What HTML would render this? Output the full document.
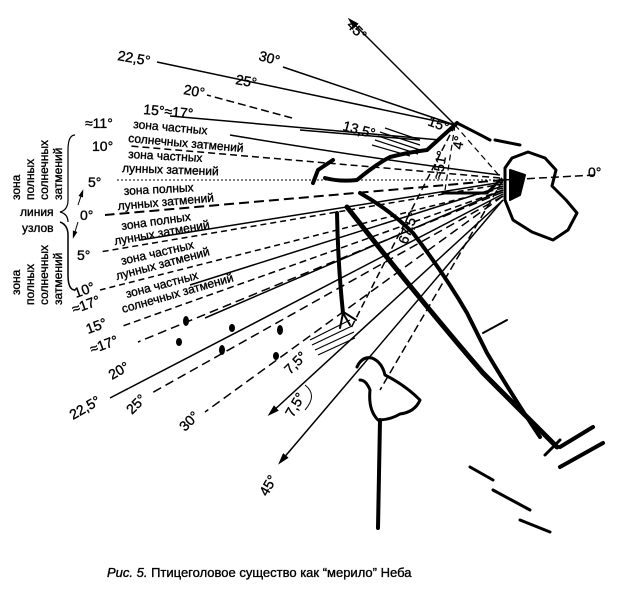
<!DOCTYPE html>
<html><head><meta charset="utf-8"><style>
html,body{margin:0;padding:0;background:#fff}
svg{display:block}
text{font-family:"Liberation Sans",sans-serif;fill:#000;stroke:#000;stroke-width:0.35}
</style></head><body>
<svg width="623" height="599" viewBox="0 0 623 599" xmlns="http://www.w3.org/2000/svg">
<defs>
<marker id="a" viewBox="0 0 10 10" refX="5" refY="5" markerWidth="8" markerHeight="8" orient="auto"><path d="M0,2 L10,5 L0,8 z" fill="#000"/></marker>
</defs>
<g stroke="#000" fill="none" stroke-width="1.5">
<line x1="455" y1="125" x2="352" y2="22" marker-end="url(#a)"/>
<line x1="455" y1="125" x2="283" y2="67"/>
<line x1="455" y1="125" x2="157" y2="62"/>
<line x1="292" y1="118" x2="207" y2="95" stroke-dasharray="8,4"/>
<line x1="440" y1="140" x2="170" y2="116"/>
<line x1="420" y1="140" x2="300" y2="130"/>
<path d="M500,175 Q380,160 230,135" />
<path d="M500,178 Q350,165 130,146" stroke-dasharray="7,4"/>
<path d="M503,180 L115,180" stroke-dasharray="2,2" stroke-width="1"/>
<path d="M503,180 L105,215" stroke-dasharray="10,5" stroke-width="2"/>
<path d="M503,182 L140,240"/>
<path d="M503,184 L100,252" stroke-dasharray="6,4"/>
<path d="M503,186 L190,285"/>
<path d="M503,188 L100,290" stroke-dasharray="6,4"/>
<path d="M503,190 L205,318"/>
<path d="M503,190 L120,327" stroke-dasharray="7,4"/>
<path d="M503,192 L138,342" stroke-dasharray="9,5"/>
<path d="M503,194 L110,398"/>
<path d="M503,196 L150,394" stroke-dasharray="9,5"/>
<path d="M503,196 L205,412" stroke-dasharray="9,5"/>
<path d="M503,200 L272,412" marker-end="url(#a)"/>
<path d="M503,200 L282,460" marker-end="url(#a)"/>
<path d="M503,180 L380,390" stroke-dasharray="8,4"/>
<path d="M455,125 L350,330" stroke-dasharray="7,4"/>
<path d="M455,125 L503,180 M455,125 L445,190" stroke-dasharray="6,4" stroke-width="1.2"/>
<path d="M503,180 L595,175" stroke-dasharray="8,4"/>
<path d="M305,385 Q318,395 305,410" stroke-width="1"/>
<path d="M75,135 Q68,135 68,150 L68,200 Q68,210 60,212 Q68,214 68,222" stroke-width="1.2"/>
<path d="M75,290 Q68,290 68,275 L68,235 Q68,225 60,222"/>
<line x1="78" y1="205" x2="82" y2="193" marker-end="url(#a)" stroke-width="1"/>
<line x1="78" y1="222" x2="74" y2="235" marker-end="url(#a)" stroke-width="1"/>
</g>
<g stroke="#000" stroke-width="1.2">
<path d="M385,128 L420,140 M380,132 L420,145 M378,136 L420,150 M375,140 L418,154 M372,145 L410,156"/>
<path d="M310,340 L350,320 M312,345 L352,326 M315,350 L354,332 M318,355 L355,338"/>
</g>
<g stroke="#000" fill="none" stroke-linecap="round" stroke-linejoin="round">
<path d="M313,183 L318,170 L333,160 M325,178 Q340,182 357,180 Q375,165 390,157 Q410,152 427,150 L457,123" stroke-width="4"/>
<path d="M457,123 Q475,132 490,140" stroke-width="3"/>
<path d="M495,140 L520,145" stroke-width="3"/>
<path d="M505,168 L512,158 L528,152 L545,158 L556,170 L552,186 L566,200 L577,213 L568,230 L553,240 L532,232 L513,220 L505,200 Z" stroke-width="3"/>
<path d="M510,170 L525,175 L520,195 L510,200 Z" fill="#000" stroke-width="2"/>
<path d="M443,193 L487,193 L500,180" stroke-width="3"/>
<path d="M347,207 Q420,300 483,373 Q530,420 557,447" stroke-width="5"/>
<path d="M360,193 Q390,210 413,233 Q445,275 467,313 Q478,335 487,353 Q515,400 540,437" stroke-width="4"/>
<path d="M337,213 Q338,265 343,313" stroke-width="4"/>
<path d="M343,313 L350,325 M343,313 L340,328 M345,313 L356,320" stroke-width="2"/>
<path d="M560,447 L593,427 M560,467 L603,443" stroke-width="4"/>
<path d="M483,333 L507,320" stroke-width="2"/>
<path d="M470,467 L493,480 M493,490 L530,510 M520,520 L550,532" stroke-width="3"/>
<path d="M560,440 L545,455" stroke-width="3"/>
<path d="M357,367 Q362,356 372,358 Q382,362 385,375 Q405,385 420,400 Q415,412 400,414 Q390,420 378,420 Q368,410 370,390 Q366,380 360,380" stroke-width="3"/>
<path d="M380,420 L378,528" stroke-width="4"/>
</g>
<g fill="#000">
<ellipse cx="186" cy="321" rx="3" ry="5"/><ellipse cx="179" cy="342" rx="3" ry="4"/><ellipse cx="232" cy="328" rx="3" ry="4"/><ellipse cx="222" cy="350" rx="3" ry="5"/><ellipse cx="280" cy="330" rx="3" ry="5"/><ellipse cx="276" cy="356" rx="3" ry="4"/>
</g>
<g font-size="14">
<text x="346" y="26" transform="rotate(45 346 26)">45°</text>
<text x="258" y="60" transform="rotate(15 258 60)">30°</text>
<text x="117" y="60" transform="rotate(10 117 60)">22,5°</text>
<text x="235" y="84" transform="rotate(10 235 84)">25°</text>
<text x="183" y="94" transform="rotate(10 183 94)">20°</text>
<text x="143" y="114" transform="rotate(5 143 114)">15°≈17°</text>
<text x="342" y="130" transform="rotate(15 342 130)">13,5°</text>
<text x="427" y="125" transform="rotate(20 427 125)">15°</text>
<text x="85" y="128">≈11°</text>
<text x="92" y="151">10°</text>
<text x="88" y="187">5°</text>
<text x="80" y="220">0°</text>
<text x="77" y="260">5°</text>
<text x="76" y="298" transform="rotate(-20 76 298)">10°</text>
<text x="74" y="314" transform="rotate(-20 74 314)">≈17°</text>
<text x="88" y="334" transform="rotate(-20 88 334)">15°</text>
<text x="92" y="354" transform="rotate(-20 92 354)">≈17°</text>
<text x="112" y="380" transform="rotate(-30 112 380)">20°</text>
<text x="73" y="420" transform="rotate(-30 73 420)">22,5°</text>
<text x="132" y="415" transform="rotate(-45 132 415)">25°</text>
<text x="185" y="432" transform="rotate(-45 185 432)">30°</text>
<text x="290" y="375" transform="rotate(-45 290 375)">7,5°</text>
<text x="293" y="418" transform="rotate(-60 293 418)">7,5°</text>
<text x="267" y="497" transform="rotate(-60 267 497)">45°</text>
<text x="588" y="177">0°</text>
<text x="407" y="245" transform="rotate(-70 407 245)">67,5°</text>
<text x="442" y="180" transform="rotate(-80 442 180)">≈51°</text>
<text x="462" y="150" transform="rotate(-80 462 150)">4°</text>
</g>
<g font-size="12">
<text x="133" y="128" transform="rotate(5 133 128)">зона частных</text>
<text x="128" y="142" transform="rotate(5 128 142)">солнечных затмений</text>
<text x="128" y="158" transform="rotate(3 128 158)">зона частных</text>
<text x="122" y="172" transform="rotate(2 122 172)">лунных затмений</text>
<text x="124" y="195" transform="rotate(-3 124 195)">зона полных</text>
<text x="118" y="210" transform="rotate(-5 118 210)">лунных затмений</text>
<text x="122" y="230" transform="rotate(-8 122 230)">зона полных</text>
<text x="115" y="245" transform="rotate(-10 115 245)">лунных затмений</text>
<text x="122" y="265" transform="rotate(-13 122 265)">зона частных</text>
<text x="117" y="280" transform="rotate(-15 117 280)">лунных затмений</text>
<text x="127" y="298" transform="rotate(-15 127 298)">зона частных</text>
<text x="123" y="313" transform="rotate(-16 123 313)">солнечных затмений</text>
<text x="20" y="216">линия</text>
<text x="22" y="232">узлов</text>
<text x="20" y="200" transform="rotate(-90 20 200)">зона</text>
<text x="34" y="200" transform="rotate(-90 34 200)">полных</text>
<text x="48" y="200" transform="rotate(-90 48 200)">солнечных</text>
<text x="62" y="200" transform="rotate(-90 62 200)">затмений</text>
<text x="20" y="295" transform="rotate(-90 20 295)">зона</text>
<text x="34" y="305" transform="rotate(-90 34 305)">полных</text>
<text x="48" y="305" transform="rotate(-90 48 305)">солнечных</text>
<text x="62" y="305" transform="rotate(-90 62 305)">затмений</text>
</g>
<text x="107" y="577" font-size="13"><tspan font-style="italic">Рис. 5.</tspan> Птицеголовое существо как “мерило” Неба</text>
</svg>
</body></html>
